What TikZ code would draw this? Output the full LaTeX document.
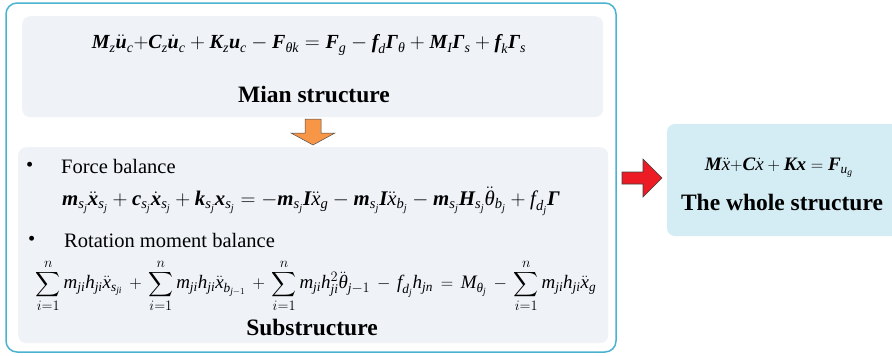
\documentclass[tikz,border=0pt]{standalone}
\usepackage{amsmath}
\usepackage[no-math]{fontspec}
\setmainfont{Liberation Serif}
\newcommand\B[1]{\text{\bfseries\itshape #1}}
\newcommand\I[1]{\text{\itshape #1}}
\definecolor{outerc}{RGB}{75,178,208}
\definecolor{panelc}{RGB}{239,243,248}
\definecolor{wholec}{RGB}{212,236,243}
\definecolor{orangec}{RGB}{247,150,70}
\definecolor{redc}{RGB}{237,28,36}
\tikzset{
  panel/.style={fill=panelc,draw=none,rounded corners=8pt},
  title/.style={font=\fontsize{23.5}{26}\selectfont\bfseries,inner sep=0pt},
  eqn/.style={font=\fontsize{20}{22}\selectfont,inner sep=0pt},
  eqf/.style={font=\fontsize{20.8}{23}\selectfont,inner sep=0pt},
  eqsum/.style={font=\fontsize{19}{21}\selectfont,inner sep=0pt},
  eqw/.style={font=\fontsize{19}{21}\selectfont,inner sep=0pt},
  plain/.style={font=\fontsize{20.5}{23}\selectfont,inner sep=0pt,anchor=west},
}
\begin{document}
\begin{tikzpicture}[x=1pt,y=-1pt]
\useasboundingbox (0,0) rectangle (892,356);
% outer frame
\draw[outerc,line width=1.5pt,rounded corners=11pt] (6,3) rectangle (616,352);
% panels
\node[panel,minimum width=581pt,minimum height=101pt,anchor=north west,inner sep=0pt] (main) at (22,16) {};
\node[panel,minimum width=590pt,minimum height=196pt,anchor=north west,inner sep=0pt] (sub) at (18,147) {};
\fill[wholec,rounded corners=8pt] (667,124) rectangle (900,236);
\coordinate (whole) at (667,180);
% main structure
\node[eqn] (eq1) at (309,45) {$\B{M}_{\I{z}}\ddot{\B{u}}_{\I{c}}{+}\B{C}_{\I{z}}\dot{\B{u}}_{\I{c}}+\B{K}_{\I{z}}\B{u}_{\I{c}}-\B{F}_{\I{θk}}=\B{F}_{\I{g}}-\B{f}_{\I{d}}\B{Γ}_{\I{θ}}+\B{M}_{\I{I}}\B{Γ}_{\I{s}}+\B{f}_{\I{k}}\B{Γ}_{\I{s}}$};
\node[title] (t1) at (314,94) {Mian structure};
% orange arrow
\filldraw[fill=orangec,draw=black!70,line width=0.5pt]
  (305,119) -- (321,119) -- (321,133) -- (335,133) -- (313,145) -- (291,133) -- (305,133) -- cycle;
% substructure
\node[plain] (b1) at (26,167) {\textbullet};
\node[plain] (fb) at (61,166) {Force balance};
\node[eqf] (eq2) at (311,201) {$\B{m}_{\I{s}_{\I{j}}}\ddot{\B{x}}_{\I{s}_{\I{j}}}+\B{c}_{\I{s}_{\I{j}}}\dot{\B{x}}_{\I{s}_{\I{j}}}+\B{k}_{\I{s}_{\I{j}}}\B{x}_{\I{s}_{\I{j}}}=-\B{m}_{\I{s}_{\I{j}}}\B{I}\ddot{\I{x}}_{\I{g}}-\B{m}_{\I{s}_{\I{j}}}\B{I}\ddot{\I{x}}_{\I{b}_{\I{j}}}-\B{m}_{\I{s}_{\I{j}}}\B{H}_{\I{s}_{\I{j}}}\ddot{\I{θ}}_{\I{b}_{\I{j}}}+\I{f}_{\I{d}_{\I{j}}}\B{Γ}$};
\node[plain] (b2) at (28,241) {\textbullet};
\node[plain] (rb) at (64,240) {Rotation moment balance};
\node[eqsum] (eq3) at (316,286) {$\medmuskip=7mu\relax\thickmuskip=8mu\relax\displaystyle\sum_{i=1}^{n}\I{m}_{\I{ji}}\I{h}_{\I{ji}}\ddot{\I{x}}_{\I{s}_{\I{ji}}}+\sum_{i=1}^{n}\I{m}_{\I{ji}}\I{h}_{\I{ji}}\ddot{\I{x}}_{\I{b}_{\I{j}-1}}+\sum_{i=1}^{n}\I{m}_{\I{ji}}\I{h}_{\I{ji}}^{2}\ddot{\I{θ}}_{\I{j}-1}-\I{f}_{\I{d}_{\I{j}}}\I{h}_{\I{jn}}=\I{M}_{\I{θ}_{\I{j}}}-\sum_{i=1}^{n}\I{m}_{\I{ji}}\I{h}_{\I{ji}}\ddot{\I{x}}_{\I{g}}$};
\node[title] (t2) at (312,327) {Substructure};
% red arrow
\filldraw[fill=redc,draw=black!75,line width=0.6pt]
  (622,172) -- (643,172) -- (643,159) -- (662,178) -- (643,197) -- (643,184) -- (622,184) -- cycle;
% whole structure
\node[eqw] (eq4) at (779,168) {$\B{M}\ddot{\I{x}}{+}\B{C}\dot{\I{x}}+\B{K}\B{x}=\B{F}_{\I{u}_{\I{g}}}$};
\node[title] (t3) at (782,202) {The whole structure};
\end{tikzpicture}
\end{document}
